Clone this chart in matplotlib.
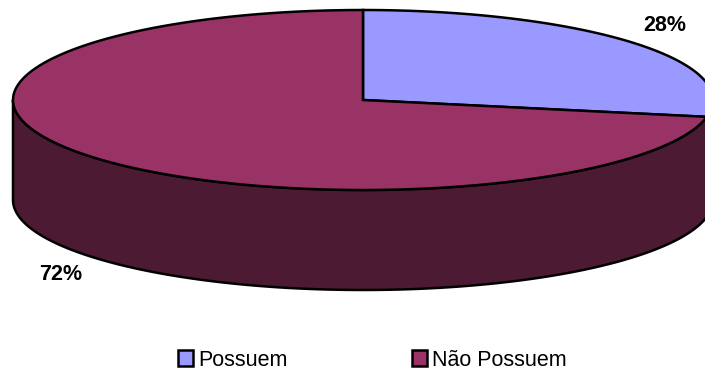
import matplotlib.pyplot as plt
import numpy as np
from matplotlib.patches import Polygon, Patch

plt.rcParams['font.family'] = ['Liberation Sans', 'DejaVu Sans']

# Dados
categorias = ['Possuem', 'Não Possuem']
valores = [28, 72]
cores_topo = ['#9999FF', '#993366']
cores_lado = ['#4D4D80', '#4C1A33']

fig = plt.figure(figsize=(7.05, 3.72), dpi=100)
ax = fig.add_axes([0, 0, 1, 1])
ax.set_xlim(0, 705)
ax.set_ylim(372, 0)
ax.axis('off')

# geometria da pizza 3D (em pixels)
cx, cy, rx, ry, prof = 363, 100, 350, 90, 100

def ponto(ang, dz=0):
    a = np.radians(ang)
    return cx + rx * np.cos(a), cy - ry * np.sin(a) + dz

total = sum(valores)
inicio = 90.0
fatias = []
for v in valores:
    fim = inicio - 360.0 * v / total
    fatias.append((fim, inicio))
    inicio = fim

# lados (so a parte da frente: -180..0 graus)
for (a0, a1), cor in zip(fatias, cores_lado):
    for desloc in [0, -360]:
        lo = max(a0, -180 + desloc)
        hi = min(a1, 0 + desloc)
        if hi <= lo:
            continue
        angs = np.linspace(lo, hi, 200)
        xs, ys = ponto(angs)
        xb, yb = ponto(angs[::-1], prof)
        pts = np.column_stack([np.concatenate([xs, xb]), np.concatenate([ys, yb])])
        ax.add_patch(Polygon(pts, closed=True, facecolor=cor, edgecolor='black', linewidth=1.8))

# topo
for (a0, a1), cor in zip(fatias, cores_topo):
    angs = np.linspace(a0, a1, 300)
    xs, ys = ponto(angs)
    pts = np.column_stack([np.concatenate([[cx], xs]), np.concatenate([[cy], ys])])
    ax.add_patch(Polygon(pts, closed=True, facecolor=cor, edgecolor='black', linewidth=1.8))

# rótulos de porcentagem
for (a0, a1), v in zip(fatias, valores):
    meio = np.radians((a0 + a1) / 2)
    x = cx + 1.12 * rx * np.cos(meio)
    y = cy - 1.3 * ry * np.sin(meio)
    if np.sin(meio) < 0:
        y += prof
    ax.text(x, y, '%d%%' % v, ha='center', va='center', fontsize=15.5, fontweight='bold')

handles = [Patch(facecolor=c, edgecolor='black', linewidth=1.8) for c in cores_topo]
fig.legend(handles, categorias, loc='center left', bbox_to_anchor=(178 / 705, 1 - 360 / 372),
           ncol=2, frameon=False, fontsize=15.5, handlelength=0.7, handleheight=0.7,
           handletextpad=0.25, columnspacing=5.75, borderpad=0, borderaxespad=0)

plt.savefig('out.png', dpi=100)
